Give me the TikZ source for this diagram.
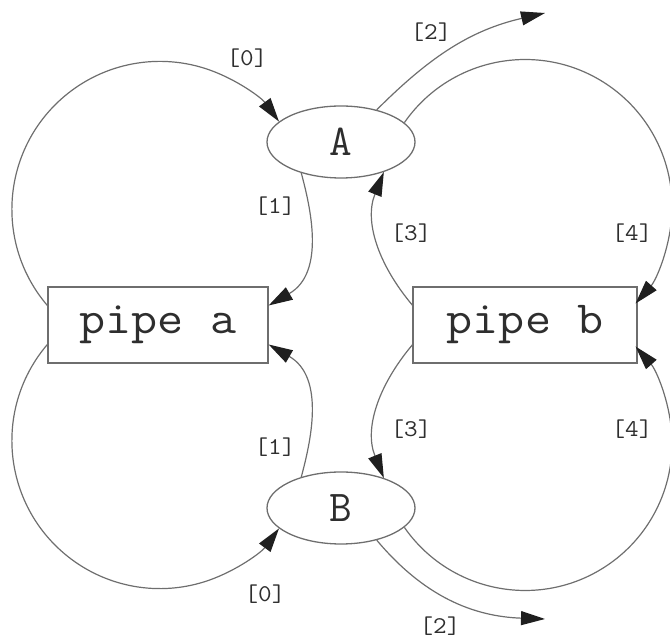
\documentclass[tikz,border=0pt]{standalone}
\usetikzlibrary{arrows.meta,shapes.geometric}
\usepackage{graphicx}
\definecolor{linegray}{HTML}{6E6E6E}
\definecolor{textgray}{HTML}{2E2E2E}
\tikzset{
  ell/.style={ellipse,draw=linegray,line width=1.3pt,minimum width=148pt,minimum height=72pt,inner sep=0pt,
    font=\ttfamily\fontsize{44}{44}\selectfont,text=textgray},
  pipebox/.style={rectangle,draw=linegray,line width=1.3pt,minimum height=76pt,inner sep=0pt,
    font=\ttfamily\fontsize{46}{46}\selectfont,text=textgray},
  lab/.style={inner sep=0pt,font=\ttfamily\fontsize{24}{24}\selectfont,text=textgray},
  conn/.style={draw=linegray,line width=1.2pt,-{Triangle[length=24pt,width=14pt,color=black!88]}}
}
\begin{document}
\begin{tikzpicture}[x=1pt,y=1pt]
\useasboundingbox (0,0) rectangle (670,642);
\node[ell] (A) at (341,500) {A};
\node[ell] (B) at (341,134) {B};
\node[pipebox,minimum width=220pt] (pa) at (158,317) {\scalebox{1.1}[1]{pipe a}};
\node[pipebox,minimum width=224pt] (pb) at (525,317) {\scalebox{1.1}[1]{pipe b}};
\coordinate (c2t) at (545,629);
\coordinate (c2b) at (545,23);
% left side
\draw[conn] (pa.170) arc[start angle=220.5,end angle=36.4,radius=148];
\draw[conn] (A.218) .. controls +(-75:35) and +(30:66) .. (pa.10);
\draw[conn] (B.142) .. controls +(75:35) and +(-30:66) .. (pa.-10);
\draw[conn] (pa.190) arc[start angle=139.5,end angle=323.6,radius=148];
% right side
\draw[conn] (A.17) arc[start angle=145.2,end angle=-41.3,radius=147];
\draw[conn] (pb.170) to[out=130,in=248] (A.-35);
\draw[conn] (pb.190) to[out=-130,in=112] (B.35);
\draw[conn] (B.-17) arc[start angle=214.8,end angle=401.3,radius=147];
\draw[conn] (A.42) to[out=45,in=193] (c2t);
\draw[conn] (B.-42) to[out=-50,in=178] (c2b);
% labels
\node[lab] (l0t) at (247,584) {\scalebox{1.1}[1]{[0]}};
\node[lab] (l1t) at (275,436) {\scalebox{1.1}[1]{[1]}};
\node[lab] (l2t) at (431,610) {\scalebox{1.1}[1]{[2]}};
\node[lab] (l3t) at (411,409) {\scalebox{1.1}[1]{[3]}};
\node[lab] (l4t) at (632,409) {\scalebox{1.1}[1]{[4]}};
\node[lab] (l1b) at (275,195) {\scalebox{1.1}[1]{[1]}};
\node[lab] (l0b) at (265,48) {\scalebox{1.1}[1]{[0]}};
\node[lab] (l3b) at (411,213) {\scalebox{1.1}[1]{[3]}};
\node[lab] (l4b) at (632,213) {\scalebox{1.1}[1]{[4]}};
\node[lab] (l2b) at (440,16) {\scalebox{1.1}[1]{[2]}};
\end{tikzpicture}
\end{document}
